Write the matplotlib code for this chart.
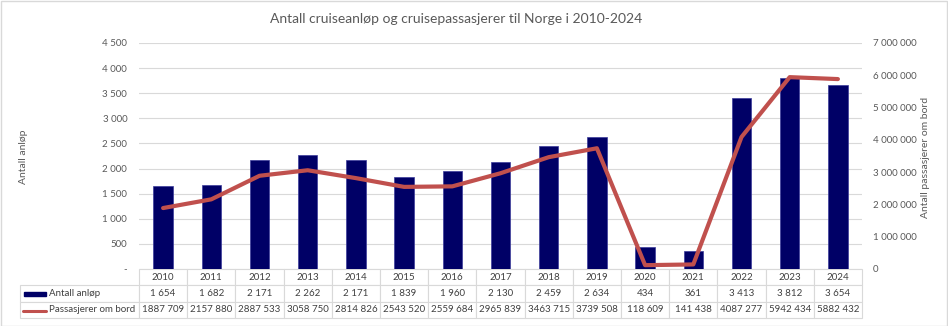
import matplotlib.pyplot as plt
from matplotlib.patches import Rectangle
from matplotlib.lines import Line2D

plt.rcParams['font.family'] = ['Lato', 'DejaVu Sans']

# Data
years = list(range(2010, 2025))
anlop = [1654, 1682, 2171, 2262, 2171, 1839, 1960, 2130, 2459, 2634, 434, 361, 3413, 3812, 3654]
passasjerer = [1887709, 2157880, 2887533, 3058750, 2814826, 2543520, 2559684, 2965839,
               3463715, 3739508, 118609, 141438, 4087277, 5942434, 5882432]

NAVY = '#000066'
RED = '#C0504D'
GREY_TXT = '#595959'
GRID = '#d9d9d9'

W, H = 948, 326
fig = plt.figure(figsize=(W / 100, H / 100), dpi=100)

# plot area in pixel coords
L, R, T, B = 139, 862, 43, 269
ax = fig.add_axes([L / W, 1 - B / H, (R - L) / W, (B - T) / H])
x = list(range(len(years)))

ax.bar(x, anlop, width=0.4, color=NAVY, edgecolor='#3b3b9b', linewidth=0.5, zorder=2)
ax.set_xlim(-0.5, len(years) - 0.5)
ax.set_ylim(0, 4500)
yt = list(range(0, 4501, 500))
ax.set_yticks(yt)
ax.set_yticklabels(['-' if v == 0 else f'{v:,}'.replace(',', ' ') for v in yt])
ax.set_xticks([])
ax.grid(axis='y', color=GRID, lw=0.8, zorder=0)
for s in ax.spines.values():
    s.set_visible(False)
ax.tick_params(axis='y', length=0, labelsize=7, labelcolor=GREY_TXT, pad=8.5)

ax2 = ax.twinx()
ax2.plot(x, passasjerer, color=RED, lw=3, solid_capstyle='round', solid_joinstyle='round', zorder=3)
ax2.set_ylim(0, 7000000)
yt2 = list(range(0, 7000001, 1000000))
ax2.set_yticks(yt2)
ax2.set_yticklabels([f'{v:,}'.replace(',', ' ') for v in yt2])
for s in ax2.spines.values():
    s.set_visible(False)
ax2.tick_params(axis='y', length=0, labelsize=7, labelcolor=GREY_TXT, pad=8)


def fmt_anl(v):
    return f'{v:,}'.replace(',', ' ')


def fmt_pas(v):
    return f'{v // 1000} {v % 1000:03d}'


# Data table (first column holds the row labels, drawn separately with legend keys)
tbl_left, tbl_bottom = 20, 318
ax_w, ax_h = R - L, B - T
bbox = [(tbl_left - L) / ax_w, -(tbl_bottom - B) / ax_h, (R - tbl_left) / ax_w, (tbl_bottom - B) / ax_h]
colw = (R - L) / len(years)
rows = [[''] + [fmt_anl(v) for v in anlop], [''] + [fmt_pas(v) for v in passasjerer]]
table = ax.table(cellText=rows, colLabels=[''] + [str(y) for y in years],
                 colWidths=[L - tbl_left] + [colw] * len(years),
                 cellLoc='center', bbox=bbox)
table.auto_set_font_size(False)
table.set_fontsize(7)
for (r, c), cell in table.get_celld().items():
    cell.set_edgecolor(GRID)
    cell.set_linewidth(0.8)
    cell.get_text().set_color('#404040')
table[0, 0].visible_edges = 'open'

# legend keys inside row label cells
fig.patches.append(Rectangle((24, H - 295.5), 22, 4, transform=None, color=NAVY))
fig.lines.append(Line2D([23, 46], [H - 310.5, H - 310.5], transform=None, color=RED, lw=2.2,
                        solid_capstyle='round'))
fig.text(49 / W, 1 - 293.5 / H, 'Antall anløp', fontsize=7, color='#404040', va='center')
fig.text(49 / W, 1 - 310 / H, 'Passasjerer om bord', fontsize=7, color='#404040', va='center')

# titles and axis labels
fig.text(456 / W, 1 - 19 / H, 'Antall cruiseanløp og cruisepassasjerer til Norge i 2010-2024',
         fontsize=10, color=GREY_TXT, ha='center', va='center')
fig.text(24 / W, 1 - 157 / H, 'Antall anløp', rotation=90, fontsize=7.5, color=GREY_TXT,
         ha='center', va='center')
fig.text(926 / W, 1 - 157 / H, 'Antall passasjerer om bord', rotation=90, fontsize=7.5,
         color=GREY_TXT, ha='center', va='center')

# outer frame
fig.patches.append(Rectangle((0.5, 0.5), W - 1.5, H - 1.5, transform=None, fill=False,
                             edgecolor=GRID, lw=1))

fig.savefig('out.png', dpi=100)
